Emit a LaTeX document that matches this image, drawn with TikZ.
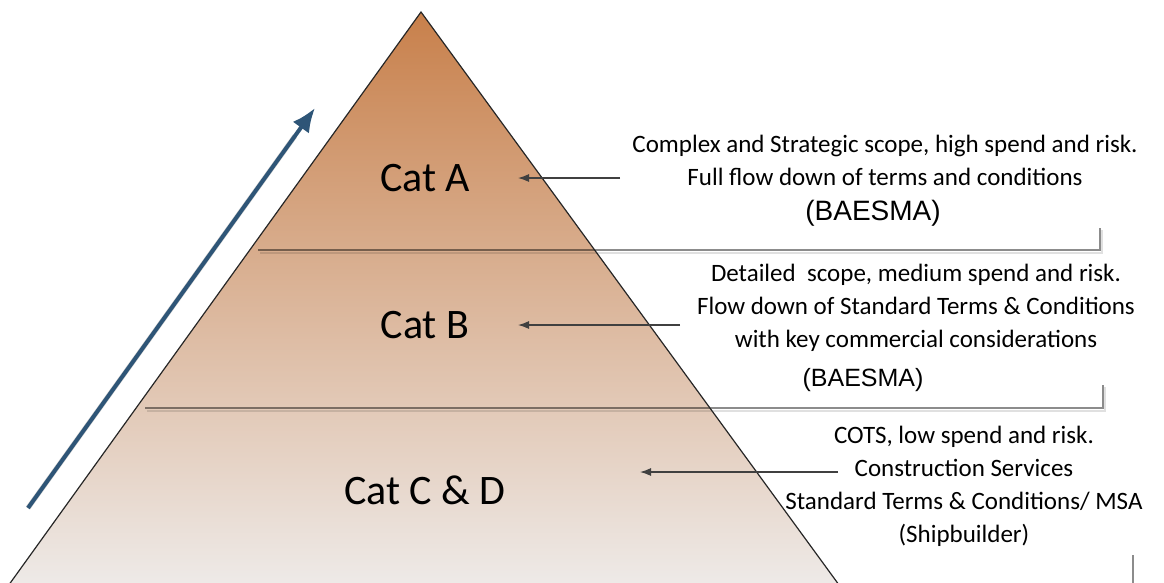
\documentclass[tikz,border=0pt]{standalone}
\usepackage{fontspec}
\setmainfont{Carlito}
\newfontfamily\arialfont{Liberation Sans}
\usetikzlibrary{arrows.meta,calc}
\definecolor{pyrtop}{HTML}{C8804B}
\definecolor{pyrbot}{HTML}{EFEDEC}
\definecolor{arrblue}{HTML}{2E5577}
\tikzset{
  catlabel/.style={font=\fontsize{42}{42}\selectfont},
  desc/.style={align=center,font=\fontsize{25}{33}\selectfont},
  baesma/.style={font=\arialfont\fontsize{28}{28}\selectfont},
  pointer/.style={-{Latex[length=11pt,width=8pt]},draw=black!75,line width=1.2pt},
  boxline/.style={draw=black,draw opacity=0.45,line width=1.2pt},
  boxshadow/.style={draw=black,draw opacity=0.12,line width=2pt}
}
\begin{document}
\begin{tikzpicture}[x=1pt,y=-1pt,>=latex]
\clip (0,0) rectangle (1164,582);
\coordinate (top) at (421,12);
\coordinate (bl) at (-2,600);
\coordinate (br) at (850,600);
\shade[top color=pyrtop,bottom color=pyrbot] (top) -- (br) -- (bl) -- cycle;
\draw[boxshadow] (260,253) -- (1102,253) -- (1102,230);
\draw[boxline] (258,250) -- (1100,250) -- (1100,228);
\draw[boxshadow] (147,411) -- (1105,411) -- (1105,387);
\draw[boxline] (145,408) -- (1103,408) -- (1103,385);
\draw[boxline] (1133,555) -- (1133,590);
\draw[black!85,line width=1.2pt] (bl) -- (top) -- (br);
\node[catlabel] (catA) at (425,178) {Cat A};
\node[catlabel] (catB) at (425,325) {Cat B};
\node[catlabel] (catCD) at (425,490) {Cat C \& D};
\node[desc] (descA) at (885,160) {Complex and Strategic scope, high spend and risk.\\Full flow down of terms and conditions};
\node[baesma] (baesmaA) at (873,213) {(BAESMA)};
\node[desc] (descB) at (916,308) {Detailed\ \ scope, medium spend and risk.\\Flow down of Standard Terms \& Conditions\\with key commercial considerations};
\node[baesma,font=\arialfont\fontsize{25}{25}\selectfont] (baesmaB) at (863,380) {(BAESMA)};
\node[desc] (descCD) at (964,486) {COTS, low spend and risk.\\Construction Services\\Standard Terms \& Conditions/ MSA\\(Shipbuilder)};
\coordinate (fromA) at (620,178);
\coordinate (toA) at (518,178);
\coordinate (fromB) at (680,325);
\coordinate (toB) at (518,325);
\coordinate (fromCD) at (838,472);
\coordinate (toCD) at (640,472);
\draw[pointer] (fromA) -- (toA);
\draw[pointer] (fromB) -- (toB);
\draw[pointer] (fromCD) -- (toCD);
\coordinate (riseS) at (28,508);
\coordinate (riseE) at (315,108);
\draw[black!20,line width=5pt,shift={(2,2)}] (riseS) -- ($(riseS)!0.93!(riseE)$);
\draw[arrblue,line width=4pt,-{Latex[length=24pt,width=20pt]}] (riseS) -- (riseE);
\end{tikzpicture}
\end{document}
